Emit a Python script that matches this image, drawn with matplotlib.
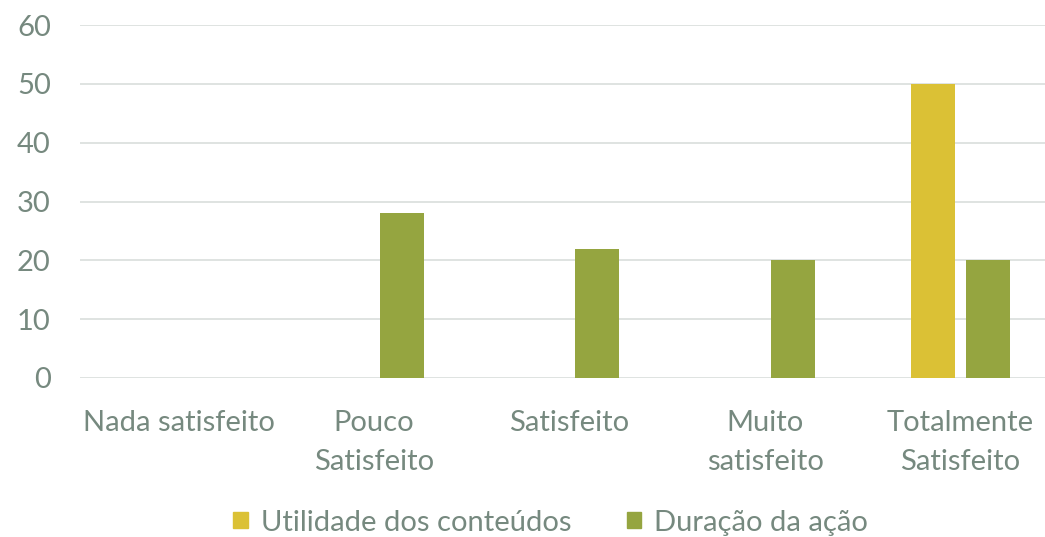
import matplotlib.pyplot as plt
import numpy as np
from matplotlib.patches import Patch

# dados do gráfico
categorias = ['Nada satisfeito', 'Pouco\nSatisfeito', 'Satisfeito', 'Muito\nsatisfeito', 'Totalmente\nSatisfeito']
utilidade = [0, 0, 0, 0, 50]
duracao = [0, 28, 22, 20, 20]
series_nomes = ['Utilidade dos conteúdos', 'Duração da ação']

cor_texto = '#76897F'
cor_amarelo = '#DBC135'
cor_verde = '#95A540'
cor_grelha = '#D9DEDC'

plt.rcParams['font.family'] = ['Lato', 'DejaVu Sans']

fig = plt.figure(figsize=(10.45, 5.37), dpi=100)
ax = fig.add_axes([80 / 1045, 159 / 537, 965 / 1045, 353 / 537])

x = np.arange(len(categorias))
largura = 0.225
desvio = 0.1407
ax.bar(x - desvio, utilidade, width=largura, color=cor_amarelo, zorder=3)
ax.bar(x + desvio, duracao, width=largura, color=cor_verde, zorder=3)

ax.set_xlim(-0.504, 4.432)
ax.set_ylim(0, 60)
ax.set_yticks(range(0, 61, 10))
ax.set_xticks(x)
ax.set_xticklabels(categorias, linespacing=1.6)
ax.yaxis.grid(True, color=cor_grelha, linewidth=1.2, zorder=0)
ax.set_axisbelow(True)
for lado in ['top', 'right', 'left', 'bottom']:
    ax.spines[lado].set_visible(False)
ax.tick_params(axis='y', length=0, pad=21, labelsize=21, labelcolor=cor_texto)
ax.tick_params(axis='x', length=0, pad=23, labelsize=21, labelcolor=cor_texto)

# legenda em baixo
handles = [Patch(color=cor_amarelo), Patch(color=cor_verde)]
fig.legend(handles, series_nomes, loc='center', bbox_to_anchor=(0.527, 0.027), ncol=2,
           frameon=False, fontsize=21, labelcolor=cor_texto, handlelength=0.5,
           handleheight=0.5, handletextpad=0.45, columnspacing=1.9)

fig.savefig('out.png', dpi=100)
